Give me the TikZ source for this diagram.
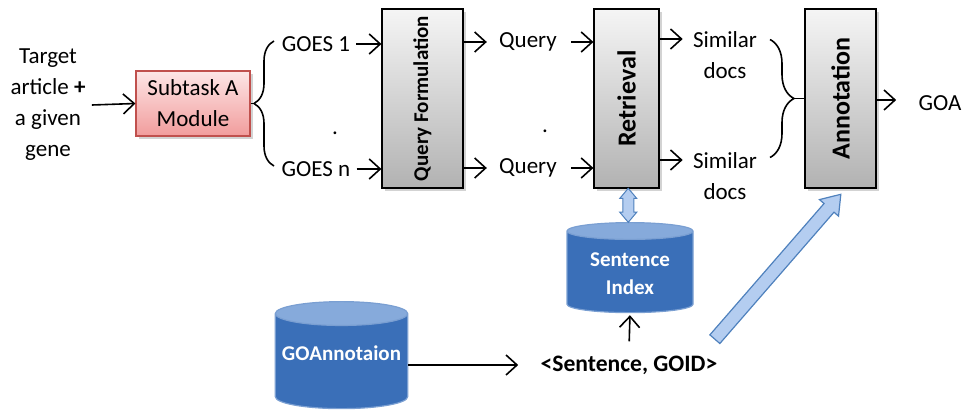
\documentclass[tikz,border=0pt]{standalone}
\usepackage{fontspec}
\setmainfont{Carlito}
\usetikzlibrary{arrows.meta,positioning,calc,shapes.geometric,shapes.arrows,shadows,decorations.pathreplacing}
\definecolor{graytop}{HTML}{F5F5F5}
\definecolor{graybot}{HTML}{B2B2B2}
\definecolor{pinktop}{HTML}{FDE6E6}
\definecolor{pinkbot}{HTML}{F19C9C}
\definecolor{pinkline}{HTML}{C0504D}
\definecolor{dbbody}{HTML}{3A6FB8}
\definecolor{dbtop}{HTML}{86AADB}
\definecolor{dbline}{HTML}{7A9FD2}
\definecolor{arrfill}{HTML}{B4CDF0}
\definecolor{arrline}{HTML}{4F81BD}

\tikzset{
  txt/.style={font=\fontsize{11.5}{15.5}\selectfont, align=center, inner sep=3pt},
  flow/.style={-{Straight Barb[length=5.5pt,width=10pt]}, line width=0.8pt},
  curly/.style={decorate, decoration={brace, amplitude=#1}, line width=0.8pt},
  softshadow/.style={drop shadow={shadow xshift=1.5pt, shadow yshift=-1.5pt, opacity=0.35}},
  stage/.style={draw=black, line width=0.6pt, top color=graytop, bottom color=graybot,
    softshadow, minimum height=89.5pt, inner sep=0pt},
  stagetext/.style={rotate=90, font=\bfseries\fontsize{#1}{15}\selectfont},
  module/.style={draw=pinkline, line width=0.6pt, top color=pinktop, bottom color=pinkbot,
    softshadow, minimum width=57pt, minimum height=32.5pt, align=center,
    font=\fontsize{11.5}{15.5}\selectfont},
  db/.style={cylinder, shape border rotate=90, aspect=0.18, draw=dbline, line width=0.6pt,
    cylinder uses custom fill, cylinder body fill=dbbody, cylinder end fill=dbtop,
    text=white, align=center, font=\bfseries\fontsize{10.5}{14}\selectfont},
  dbarrow/.style={double arrow, draw=arrline, fill=arrfill, line width=0.5pt, rotate=90,
    inner sep=2.5pt, double arrow head extend=1.5pt, double arrow tip angle=80},
  bigarrow/.style={single arrow, draw=arrline, fill=arrfill, line width=0.6pt,
    inner sep=3pt, single arrow head extend=3pt, single arrow tip angle=70}
}

\begin{document}
\begin{tikzpicture}[x=0.5pt, y=-0.5pt]
    \useasboundingbox (0,0) rectangle (964,411);

    % Input and Subtask A
    \node[txt] (tgt) at (48,105) {Target\\article \textbf{+}\\a given\\gene};
    \node[module] (sub) at (193,103.5) {Subtask A\\Module};
    \draw[flow] (tgt.east) -- (sub.west);

    % Main pipeline stages
    \node[stage, minimum width=40.5pt, label={[stagetext=10.5]center:Query Formulation}] (qf) at (422.5,98.5) {};
    \node[stage, minimum width=32.5pt, label={[stagetext=13]center:Retrieval}] (ret) at (626.5,98.5) {};
    \node[stage, minimum width=35.5pt, label={[stagetext=13]center:Annotation}] (anno) at (840.5,98.5) {};

    % GOES branches
    \node[txt] (goes1) at (316,44) {GOES 1};
    \node[txt] (goesn) at (316,169) {GOES n};
    \node[txt] (dot1) at (335,133) {.};
    \coordinate (ltip) at (254,103.5);
    \draw[curly=10pt] (274,166) -- (274,41);
    \draw[line width=0.8pt] (sub.east) -- (ltip);
    \draw[flow] (goes1.east) -- (goes1.east -| qf.west);
    \draw[flow] (goesn.east) -- (goesn.east -| qf.west);

    % Queries
    \node[txt] (q1) at (528,42) {Query};
    \node[txt] (qn) at (528,168) {Query};
    \node[txt] (dot2) at (545,131) {.};
    \draw[flow, shorten >=3pt] (q1.west -| qf.east) -- (q1.west);
    \draw[flow, shorten >=3pt] (qn.west -| qf.east) -- (qn.west);
    \draw[flow, shorten <=4pt] (q1.east) -- (q1.east -| ret.west);
    \draw[flow, shorten <=4pt] (qn.east) -- (qn.east -| ret.west);

    % Similar docs
    \node[txt] (sim1) at (725,55) {Similar\\docs};
    \node[txt] (simn) at (725,176) {Similar\\docs};
    \coordinate (s1) at (ret.east |- 0,39);
    \coordinate (sn) at (ret.east |- 0,160);
    \draw[flow, shorten >=2pt] (s1) -- (s1 -| sim1.west);
    \draw[flow, shorten >=2pt] (sn) -- (sn -| simn.west);
    \coordinate (rtip) at (794,98.5);
    \draw[curly=12pt] (770,39.5) -- (770,157.5);
    \draw[line width=0.8pt] (rtip) -- (rtip -| anno.west);

    % Output
    \node[txt] (goa) at (940,103) {GOA};
    \draw[flow, shorten >=8pt] (anno.east |- 0,100) -- (goa.west |- 0,100);

    % Sentence index and GO annotation store
    \node[db, minimum width=63pt, minimum height=45pt] (sidx) at (630,274) {Sentence\\Index};
    \node[db, minimum width=63.5pt, minimum height=53.5pt, text depth=11pt] (goann) at (341.5,364) {GOAnnotaion};
    \node[font=\bfseries\fontsize{11.8}{14}\selectfont, inner sep=3pt] (pair) at (629,365) {<Sentence, GOID>};
    \draw[flow, shorten >=8pt] (goann.east |- pair.west) -- (pair.west);
    \draw[flow, shorten <=4pt, shorten >=1pt] (pair.north) -- (sidx.south);
    \node[dbarrow, minimum height=17pt] (link) at ($(ret.south)!0.5!(sidx.north)$) {};

    % Sentence/GOID pairs feed the annotation step
    \coordinate (feedtail) at (709,343);
    \coordinate (feedhead) at ([yshift=-4.5pt]anno.south);
    \node[bigarrow, rotate=49, minimum height=96pt, minimum width=12pt] (feed) at ($(feedtail)!0.5!(feedhead)$) {};
\end{tikzpicture}
\end{document}
